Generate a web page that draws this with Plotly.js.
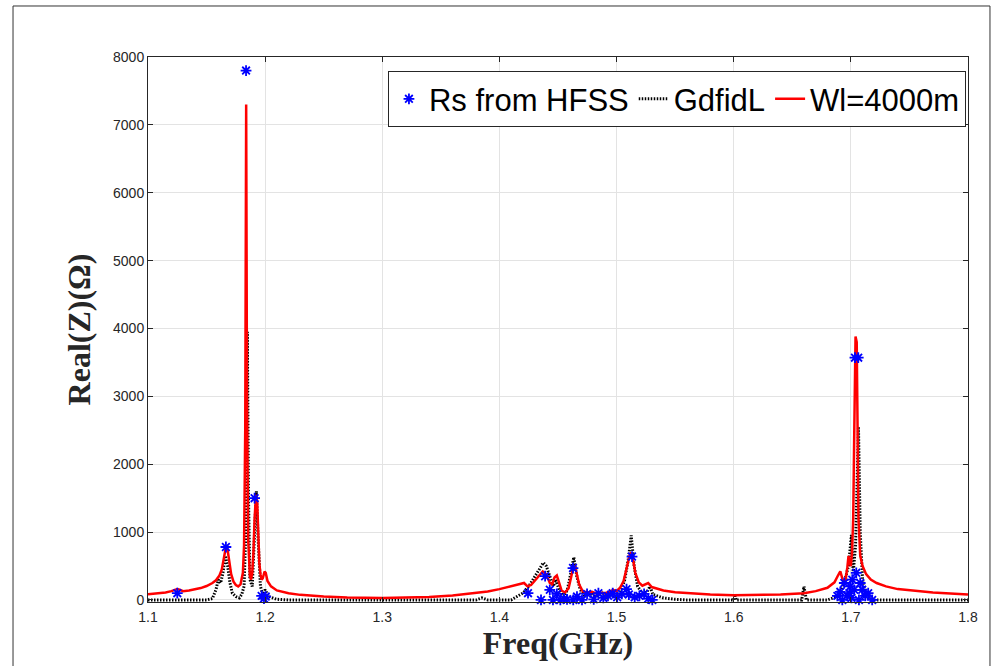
<!DOCTYPE html>
<html>
<head>
<meta charset="utf-8">
<script src="https://cdn.plot.ly/plotly-3.0.1.min.js"></script>
<style>html,body{margin:0;padding:0;background:#fff;}#chart{width:992px;height:666px;}</style>
</head>
<body>
<div id="chart"></div>
<script>
// Rs from HFSS (blue stars)
const hfssFreq = [1.125, 1.1665, 1.1837, 1.191, 1.197, 1.199, 1.2005,
  1.4244, 1.4355, 1.439, 1.443, 1.4457, 1.449, 1.452, 1.455, 1.4577, 1.4628, 1.463, 1.4662, 1.4705, 1.4748,
  1.4805, 1.4845, 1.4887, 1.4927, 1.4967, 1.5005, 1.5045, 1.5085, 1.5105, 1.5132, 1.5155, 1.5195, 1.5235, 1.527, 1.5305,
  1.6885, 1.691, 1.6927, 1.6944, 1.6969, 1.6987, 1.6995, 1.7012, 1.7029, 1.7035, 1.7046, 1.7063, 1.708, 1.7097, 1.7122, 1.7148, 1.7182, 1.7069, 1.7005];
const hfssRs = [100, 780, 7800, 1500, 60, 20, 50,
  100, 0, 350, 150, 0, 90, 0, 20, 10, 470, 0, 50, 0, 90,
  10, 100, 30, 60, 100, 40, 90, 160, 80, 640, 40, 60, 90, 20, 0,
  60, 120, 0, 250, 60, 100, 200, 300, 150, 3570, 400, 3570, 250, 150, 60, 100, 0, 0, 30];

// GdfidL (black dotted)
const gdfFreq = [1.100, 1.150, 1.155, 1.158, 1.160, 1.162, 1.164, 1.166, 1.168, 1.170, 1.172, 1.175, 1.178, 1.180, 1.182, 1.1835, 1.1848, 1.1858, 1.187, 1.189, 1.191, 1.1925, 1.194, 1.196, 1.198, 1.200, 1.203, 1.210, 1.220,
  1.380, 1.385, 1.390, 1.410, 1.420, 1.425, 1.430, 1.434, 1.4375, 1.440, 1.443, 1.446, 1.448, 1.451, 1.455, 1.458, 1.461, 1.4635, 1.466, 1.469, 1.473, 1.478, 1.482, 1.488, 1.492, 1.496, 1.499, 1.503, 1.507, 1.510, 1.5125, 1.515, 1.518, 1.522, 1.526, 1.5285, 1.531, 1.540, 1.550, 1.560,
  1.600, 1.601, 1.602, 1.658, 1.660, 1.662, 1.680, 1.688, 1.692, 1.695, 1.698, 1.7005, 1.702, 1.704, 1.7065, 1.708, 1.710, 1.713, 1.716, 1.720, 1.800];
const gdfRe = [0, 0, 20, 150, 300, 250, 400, 650, 500, 250, 100, 50, 30, 80, 200, 1000, 3950, 1500, 300, 200, 1000, 1600, 900, 200, 80, 150, 50, 10, 0,
  0, 30, 0, 0, 100, 200, 350, 450, 550, 500, 350, 200, 300, 150, 50, 150, 400, 630, 350, 150, 60, 100, 50, 100, 30, 80, 50, 100, 300, 600, 950, 500, 200, 100, 120, 200, 80, 30, 10, 0,
  0, 80, 0, 0, 200, 0, 0, 50, 150, 300, 500, 960, 400, 800, 2550, 1000, 300, 100, 30, 0, 0];

// Wl=4000m (red)
const wlFreq = [1.100, 1.105, 1.110, 1.115, 1.120, 1.123, 1.125, 1.127, 1.130, 1.135, 1.140, 1.145, 1.150, 1.155, 1.158, 1.161, 1.163, 1.165, 1.1665, 1.1675, 1.169, 1.171, 1.173, 1.175, 1.177, 1.179, 1.181, 1.182, 1.183, 1.1838, 1.1845, 1.1855, 1.187, 1.188, 1.189, 1.190, 1.191, 1.1922, 1.1932, 1.194, 1.195, 1.196, 1.197, 1.198, 1.1995, 1.2005, 1.202, 1.205, 1.210, 1.220, 1.230, 1.250, 1.270, 1.300, 1.320, 1.340, 1.360, 1.380, 1.390, 1.400, 1.410, 1.418, 1.421, 1.424, 1.427, 1.430, 1.434, 1.437, 1.440, 1.443, 1.445, 1.447, 1.449, 1.451, 1.453, 1.456, 1.459, 1.461, 1.463, 1.4645, 1.466, 1.468, 1.471, 1.475, 1.479, 1.482, 1.486, 1.490, 1.494, 1.497, 1.500, 1.503, 1.506, 1.509, 1.5115, 1.5125, 1.514, 1.516, 1.519, 1.522, 1.525, 1.527, 1.530, 1.535, 1.540, 1.550, 1.560, 1.580, 1.600, 1.620, 1.640, 1.660, 1.670, 1.680, 1.686, 1.689, 1.691, 1.693, 1.695, 1.697, 1.698, 1.699, 1.700, 1.701, 1.702, 1.703, 1.704, 1.705, 1.7055, 1.7065, 1.708, 1.710, 1.713, 1.717, 1.722, 1.730, 1.740, 1.750, 1.770, 1.800];
const wlRe = [85, 90, 100, 110, 130, 150, 160, 150, 130, 140, 155, 175, 205, 250, 290, 360, 450, 620, 780, 790, 600, 380, 270, 220, 200, 230, 400, 800, 2500, 7300, 3000, 900, 350, 300, 400, 700, 1200, 1550, 1450, 900, 550, 380, 300, 320, 420, 400, 280, 200, 140, 100, 75, 50, 35, 30, 35, 45, 65, 100, 125, 160, 200, 240, 250, 200, 220, 280, 360, 420, 380, 250, 230, 330, 360, 250, 140, 110, 170, 320, 480, 500, 400, 230, 130, 110, 120, 100, 110, 100, 120, 150, 130, 180, 280, 480, 680, 700, 600, 400, 260, 210, 230, 250, 190, 160, 140, 115, 100, 80, 70, 70, 80, 100, 130, 180, 260, 360, 420, 300, 250, 480, 650, 550, 500, 700, 1200, 2600, 3880, 3800, 2500, 1200, 650, 500, 380, 300, 250, 200, 160, 140, 110, 80];

const xTicks = [1.1, 1.2, 1.3, 1.4, 1.5, 1.6, 1.7, 1.8];
const yTicks = [0, 1000, 2000, 3000, 4000, 5000, 6000, 7000, 8000];

const traces = [
  {x: gdfFreq, y: gdfRe, type: 'scatter', mode: 'lines', name: 'GdfidL', legendrank: 2,
   line: {color: '#000000', width: 3, dash: '1.5px,1.5px'}},
  {x: wlFreq, y: wlRe, type: 'scatter', mode: 'lines', name: 'Wl=4000m', legendrank: 3,
   line: {color: '#ff0000', width: 2.5}},
  {x: hfssFreq, y: hfssRs, type: 'scatter', mode: 'markers', name: 'Rs from HFSS', legendrank: 1,
   marker: {symbol: 'asterisk-open', size: 9, color: '#0000ff', line: {color: '#0000ff', width: 1.8}}, cliponaxis: false}
];

const axisCommon = {
  showgrid: true, gridcolor: '#e3e3e3', gridwidth: 1,
  showline: true, linecolor: '#262626', linewidth: 1, mirror: 'ticks',
  ticks: 'inside', ticklen: 5, tickcolor: '#262626',
  tickfont: {family: 'Liberation Sans, Arial, sans-serif', size: 14, color: '#262626'},
  zeroline: false
};

const layout = {
  width: 992, height: 666,
  paper_bgcolor: '#ffffff', plot_bgcolor: '#ffffff',
  margin: {l: 148, r: 24, t: 57, b: 64},
  showlegend: true,
  legend: {
    orientation: 'h', x: 0.9975, xanchor: 'right', y: 0.974, yanchor: 'top',
    bgcolor: '#ffffff', bordercolor: '#262626', borderwidth: 1,
    font: {family: 'Liberation Sans, Arial, sans-serif', size: 31, color: '#000000'},
    itemwidth: 30, tracegroupgap: 0
  },
  xaxis: Object.assign({}, axisCommon, {
    range: [1.1, 1.8], tickvals: xTicks, ticktext: xTicks.map(v => v.toFixed(1)),
    ticklabelstandoff: 2,
    title: {text: '<b>Freq(GHz)</b>', standoff: 3,
      font: {family: 'Liberation Serif, DejaVu Serif, serif', size: 32, color: '#262626'}}
  }),
  yaxis: Object.assign({}, axisCommon, {
    range: [-30, 8000], tickvals: yTicks, ticktext: yTicks.map(v => String(v)),
    title: {text: '<b>Real(Z)(Ω)</b>', standoff: 12,
      font: {family: 'Liberation Serif, DejaVu Serif, serif', size: 32, color: '#262626'}}
  }),
  shapes: [
    {type: 'rect', xref: 'paper', yref: 'paper', x0: -0.1646, x1: 1.0268, y0: -0.14, y1: 1.0936,
     line: {color: '#333333', width: 1}, fillcolor: 'rgba(0,0,0,0)', layer: 'below'}
  ]
};

Plotly.newPlot('chart', traces, layout, {displayModeBar: false, staticPlot: true});
</script>
</body>
</html>
